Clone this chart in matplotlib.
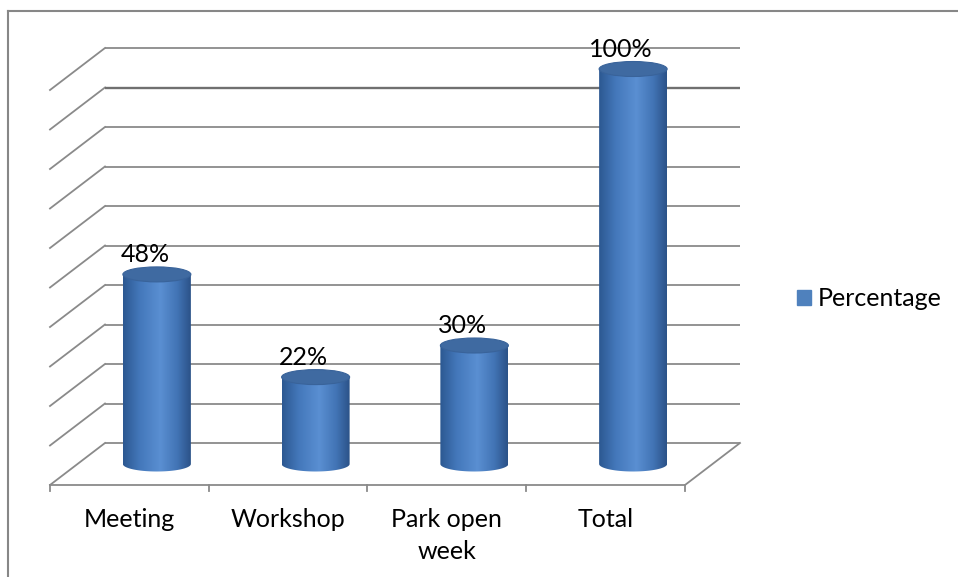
import matplotlib
matplotlib.use("Agg")
import matplotlib.pyplot as plt
import numpy as np
from matplotlib.patches import Ellipse, PathPatch, Patch
from matplotlib.path import Path
from matplotlib.colors import LinearSegmentedColormap
from matplotlib.lines import Line2D

# ---- data ----
categories = ["Meeting", "Workshop", "Park open\nweek", "Total"]
values = [48, 22, 30, 100]
value_labels = ["48%", "22%", "30%", "100%"]
series_name = "Percentage"
grid_ticks = list(range(0, 101, 10))

plt.rcParams["font.family"] = ["Lato", "DejaVu Sans"]
FS = 18

W, H = 958, 577
fig = plt.figure(figsize=(W / 100, H / 100), dpi=100)
ax = fig.add_axes([0, 0, 1, 1])

PX = 158.75   # pixels per category
PY = 3.95     # pixels per percent
X0 = 50       # pixel x of front-left floor corner
Y0 = 485      # pixel y (from top) of front floor edge
DX = 55 / PX  # depth offset in data units
DY = 42 / PY

n = len(categories)
xmin = -0.5 - X0 / PX
xmax = -0.5 + (W - X0) / PX
ymin = -(H - Y0) / PY
ymax = Y0 / PY

grid_c = "#8a8a8a"
# walls: left diagonals + back wall horizontal lines
for v in grid_ticks:
    ax.plot([-0.5, -0.5 + DX], [v, v + DY], color=grid_c, lw=1.3, zorder=1)
    c = "#707070" if v == 90 else grid_c
    lw = 1.7 if v == 90 else 1.3
    ax.plot([-0.5 + DX, n - 0.5 + DX], [v + DY, v + DY],
            color=c, lw=lw, zorder=1, solid_capstyle="butt")
# floor front edge and right diagonal
ax.plot([-0.5, n - 0.5, n - 0.5 + DX], [0, 0, DY], color=grid_c, lw=1.3, zorder=1)
# tick marks
for i in range(n + 1):
    ax.plot([i - 0.5, i - 0.5], [0, -6 / PY], color=grid_c, lw=1.3, zorder=1)

cmap = LinearSegmentedColormap.from_list(
    "cyl", [(0.0, "#2c5891"), (0.25, "#4478bb"), (0.55, "#5a8fd2"),
            (0.8, "#4274b5"), (1.0, "#2b5288")])
grad = np.linspace(0, 1, 256).reshape(1, -1)

r = 34 / PX
eh = 7.5 / PY
for i, (v, lab) in enumerate(zip(values, value_labels)):
    cx = i + DX / 2
    yb = DY / 2
    yt = v + DY / 2
    t = np.linspace(np.pi, 2 * np.pi, 60)
    verts = [(cx - r, yt), (cx - r, yb)]
    verts += [(cx + r * np.cos(a), yb + eh * np.sin(a)) for a in t]
    verts += [(cx + r, yt), (cx - r, yt)]
    codes = [Path.MOVETO] + [Path.LINETO] * (len(verts) - 2) + [Path.CLOSEPOLY]
    body = PathPatch(Path(verts, codes), facecolor="none", edgecolor="none", zorder=2)
    ax.add_patch(body)
    im = ax.imshow(grad, cmap=cmap, extent=[cx - r, cx + r, yb - eh, yt],
                   aspect="auto", zorder=2, interpolation="bilinear")
    im.set_clip_path(body)
    top = Ellipse((cx, yt), 2 * r, 2 * eh, facecolor="#3f6aa1",
                  edgecolor="#39639a", lw=0.8, zorder=3)
    ax.add_patch(top)
    ax.text(cx - 12 / PX, yt + 20 / PY, lab, ha="center", va="center",
            fontsize=FS, color="black", zorder=4)

for i, cat in enumerate(categories):
    ax.text(i, -23 / PY, cat, ha="center", va="top", fontsize=FS,
            color="black", linespacing=1.45)

ax.legend(handles=[Patch(facecolor="#4f81bd", edgecolor="#4f81bd")],
          labels=[series_name], loc="center left",
          bbox_to_anchor=(797 / W, 1 - 299 / H), frameon=False,
          fontsize=FS, borderpad=0, handlelength=0.55, handleheight=0.55,
          handletextpad=0.3, borderaxespad=0)

# outer chart border (left and top)
fig.add_artist(Line2D([8 / W, 8 / W], [0, 1 - 11 / H], transform=fig.transFigure,
                      color="#878787", lw=1.5))
fig.add_artist(Line2D([8 / W, 1], [1 - 11 / H, 1 - 11 / H], transform=fig.transFigure,
                      color="#878787", lw=1.5))

ax.set_xlim(xmin, xmax)
ax.set_ylim(ymin, ymax)
ax.axis("off")

fig.savefig("out.png", dpi=100)
